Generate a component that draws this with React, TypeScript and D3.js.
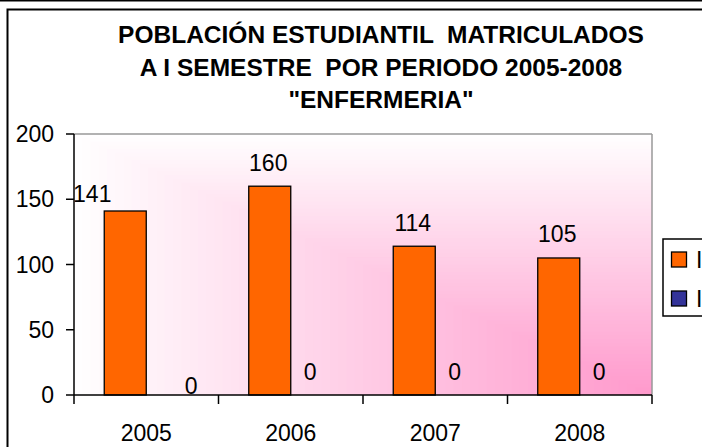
import React from 'react';
import * as d3 from 'd3';

const years = ['2005', '2006', '2007', '2008'];
const seriesNames = ['I SEMESTRE', 'II SEMESTRE'];
const semestreI = [141, 160, 114, 105];
const semestreII = [0, 0, 0, 0];
const yTicks = [0, 50, 100, 150, 200];
const titleLines = [
  'POBLACIÓN ESTUDIANTIL  MATRICULADOS',
  'A I SEMESTRE  POR PERIODO 2005-2008',
  '"ENFERMERIA"',
];

const colors = ['#FF6600', '#333399'];
const font = '"Liberation Sans", Arial, sans-serif';

export default function App() {
  const width = 702;
  const height = 447;
  const plot = { left: 74, right: 652, top: 134, bottom: 395 };

  const x0 = d3.scaleBand<string>().domain(years).range([plot.left, plot.right]);
  const x1 = d3
    .scaleBand<string>()
    .domain(seriesNames)
    .range([0, x0.bandwidth()])
    .paddingInner(0)
    .paddingOuter(0.72);
  const y = d3.scaleLinear().domain([0, 200]).range([plot.bottom, plot.top]);

  const values = [semestreI, semestreII];

  // Excel "from corner" fill: rectangular bands towards the bottom-right
  const steps = 70;
  const fillColor = d3.interpolateRgb('#ffffff', '#ff99cc');
  const pw = plot.right - plot.left;
  const ph = plot.bottom - plot.top;

  // odd manual label placement in the first category
  const nudge = (s: number, i: number) => {
    if (i === 0 && s === 0) return { dx: -33, dy: 6.5 };
    if (i === 0 && s === 1) return { dx: 24, dy: 14 };
    return { dx: -1.5, dy: 0 };
  };

  return (
    <div style={{ position: 'fixed', left: 0, top: 0 }}>
      <svg width={width} height={height} style={{ display: 'block', background: '#fff' }}>
        <rect x={0} y={0} width={width} height={1.5} fill="#000" />
        <rect x={7.5} y={9.5} width={width + 20} height={height + 20} fill="#fff" stroke="#000" strokeWidth={2} />

        {/* title */}
        <g fontFamily={font} fontWeight="bold" fontSize={24.5} textAnchor="middle" fill="#000">
          {titleLines.map((t, i) => (
            <text key={i} x={381} y={43 + i * 32.7} style={{ whiteSpace: 'pre' }}>
              {t}
            </text>
          ))}
        </g>

        {/* plot background */}
        <g>
          {d3.range(steps).map((i) => {
            const t = i / steps;
            return (
              <rect
                key={i}
                x={plot.left + t * pw}
                y={plot.top + t * ph}
                width={(1 - t) * pw}
                height={(1 - t) * ph}
                fill={fillColor((i + 0.5) / steps)}
              />
            );
          })}
        </g>

        {/* top gridline and plot border */}
        <line x1={plot.left} x2={plot.right} y1={y(200)} y2={y(200)} stroke="#999" strokeWidth={1.5} />
        <line x1={plot.right} x2={plot.right} y1={plot.top} y2={plot.bottom} stroke="#999" strokeWidth={1.5} />

        {/* bars */}
        {years.map((yr, i) => (
          <g key={yr} transform={`translate(${x0(yr)},0)`}>
            {seriesNames.map((s, si) => {
              const v = values[si][i];
              return (
                <rect
                  key={s}
                  x={x1(s)}
                  y={y(v)}
                  width={x1.bandwidth()}
                  height={y(0) - y(v)}
                  fill={colors[si]}
                  stroke="#000"
                  strokeWidth={1.3}
                />
              );
            })}
          </g>
        ))}

        {/* axes */}
        <g stroke="#000" strokeWidth={1.5}>
          <line x1={plot.left} x2={plot.left} y1={plot.top} y2={plot.bottom} />
          <line x1={plot.left} x2={plot.right} y1={plot.bottom} y2={plot.bottom} />
          {yTicks.map((t) => (
            <line key={t} x1={plot.left - 8} x2={plot.left} y1={y(t)} y2={y(t)} />
          ))}
          {[...years.map((yr) => x0(yr) as number), plot.right].map((xx, i) => (
            <line key={i} x1={xx} x2={xx} y1={plot.bottom} y2={plot.bottom + 9} />
          ))}
        </g>

        <g fontFamily={font} fontSize={23} fill="#000">
          {yTicks.map((t) => (
            <text key={t} x={54} y={y(t)} dy="0.35em" textAnchor="end">
              {t}
            </text>
          ))}
          {years.map((yr) => (
            <text key={yr} x={(x0(yr) as number) + x0.bandwidth() / 2} y={440.5} textAnchor="middle">
              {yr}
            </text>
          ))}
          {/* value labels */}
          {years.map((yr, i) =>
            seriesNames.map((s, si) => {
              const v = values[si][i];
              const n = nudge(si, i);
              return (
                <text
                  key={yr + s}
                  x={(x0(yr) as number) + (x1(s) as number) + x1.bandwidth() / 2 + n.dx}
                  y={y(v) - 15.5 + n.dy}
                  textAnchor="middle"
                >
                  {v}
                </text>
              );
            })
          )}
        </g>

        {/* legend (cut off by the picture edge) */}
        <g fontFamily={font} fontSize={23}>
          <rect x={663} y={239} width={80} height={77} fill="#fff" stroke="#000" strokeWidth={1.5} />
          {seriesNames.map((s, i) => (
            <g key={s} transform={`translate(0,${i * 39})`}>
              <rect x={671.5} y={252} width={15} height={15} fill={colors[i]} stroke="#000" strokeWidth={1.3} />
              <text x={696} y={267.5} fill="#000" style={{ whiteSpace: 'pre' }}>
                {s}
              </text>
            </g>
          ))}
        </g>
      </svg>
    </div>
  );
}
